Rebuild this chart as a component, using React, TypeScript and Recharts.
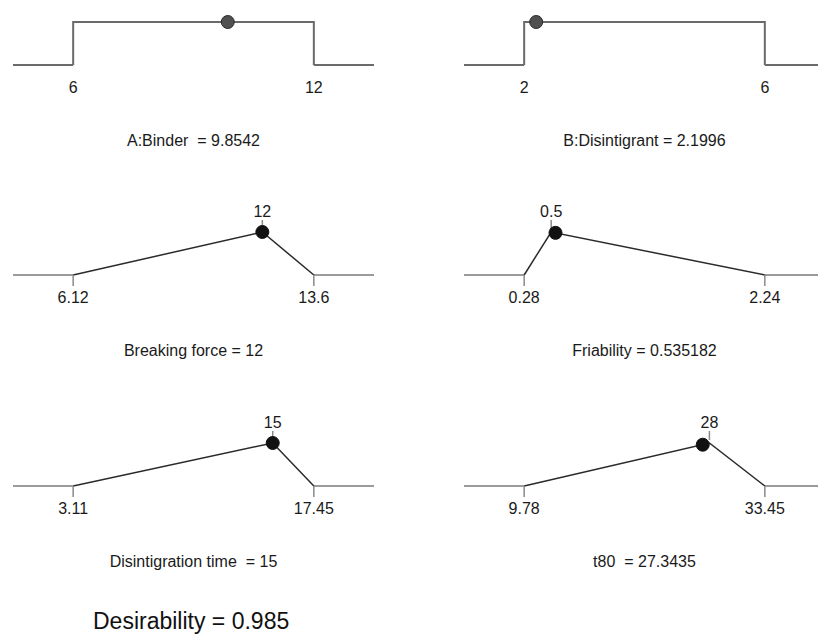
import React from "react";
import { ComposedChart, Line, Scatter, XAxis, YAxis } from "recharts";

// Factor / response settings
const panelNames = [
  "A:Binder",
  "B:Disintigrant",
  "Breaking force",
  "Friability",
  "Disintigration time",
  "t80",
];
const lowLimits = [6, 2, 6.12, 0.28, 3.11, 9.78];
const highLimits = [12, 6, 13.6, 2.24, 17.45, 33.45];
const targetValues: (number | null)[] = [null, null, 12, 0.5, 15, 28];
const currentValues = [9.8542, 2.1996, 12, 0.535182, 15, 27.3435];
const currentLabels = ["9.8542", "2.1996", "12", "0.535182", "15", "27.3435"];
const pointDesirability = [1, 1, 1, 0.98, 1, 0.96];
const overallDesirability = "0.985";

const FONT = '"Liberation Sans", Arial, sans-serif';
const ROW_PEAK = [22, 232, 443]; // y of desirability = 1 in each row
const RAMP_H = 43;
const CHART_H = 128;
const TOP_M = 40;

const renderEdgeTick = (marks: boolean) => (props: any) => {
  const { x, y, payload } = props;
  return (
    <g>
      {marks && (
        <line x1={x} x2={x} y1={y} y2={y + 11} stroke="#8a8a8a" strokeWidth={1.5} />
      )}
      <text x={x} y={y + 28} textAnchor="middle" fontSize={16} fill="#1a1a1a" fontFamily={FONT}>
        {payload.value}
      </text>
    </g>
  );
};

const TargetMark = ({ cx, cy, payload }: any) => (
  <g>
    <line x1={cx} x2={cx} y1={cy - 12} y2={cy - 3} stroke="#8a8a8a" strokeWidth={1.5} />
    <text x={cx} y={cy - 15} textAnchor="middle" fontSize={16} fill="#1a1a1a" fontFamily={FONT}>
      {payload.label}
    </text>
  </g>
);

const Panel = ({ i }: { i: number }) => {
  const lo = lowLimits[i];
  const hi = highLimits[i];
  const pad = (hi - lo) * 0.25;
  const domain = [lo - pad, hi + pad];
  const target = targetValues[i];
  const isFactor = target === null;
  const right = i % 2 === 1;
  const row = Math.floor(i / 2);

  const flatLeft = [
    { x: domain[0], y: 0 },
    { x: lo, y: 0 },
  ];
  const flatRight = [
    { x: hi, y: 0 },
    { x: domain[1], y: 0 },
  ];
  const ramp = isFactor
    ? [
        { x: lo, y: 0 },
        { x: lo, y: 1 },
        { x: hi, y: 1 },
        { x: hi, y: 0 },
      ]
    : [
        { x: lo, y: 0 },
        { x: target, y: 1 },
        { x: hi, y: 0 },
      ];
  const point = [{ x: currentValues[i], y: pointDesirability[i] }];
  const targetPoint = isFactor ? [] : [{ x: target, y: 1, label: String(target) }];

  const flatColor = isFactor ? "#6a6a6a" : "#7a7a7a";
  const rampColor = isFactor ? "#6a6a6a" : "#2a2a2a";
  const width = right ? 416 : 409;

  return (
    <div
      style={{
        position: "absolute",
        left: right ? 409 : 0,
        top: ROW_PEAK[row] - TOP_M,
        width,
        height: CHART_H,
      }}
    >
      <ComposedChart
        width={width}
        height={CHART_H}
        margin={{ top: TOP_M, right: right ? 0 : 35, bottom: 5, left: right ? 55 : 13 }}
      >
        <XAxis
          type="number"
          dataKey="x"
          domain={domain}
          ticks={[lo, hi]}
          interval={0}
          height={CHART_H - TOP_M - 5 - RAMP_H}
          axisLine={false}
          tickLine={false}
          tickSize={0}
          tickMargin={0}
          tick={renderEdgeTick(!isFactor)}
        />
        <YAxis type="number" dataKey="y" domain={[0, 1]} hide />
        <Line data={flatLeft} dataKey="y" stroke={flatColor} strokeWidth={isFactor ? 2 : 1.6} dot={false} activeDot={false} isAnimationActive={false} />
        <Line data={flatRight} dataKey="y" stroke={flatColor} strokeWidth={isFactor ? 2 : 1.6} dot={false} activeDot={false} isAnimationActive={false} />
        <Line data={ramp} dataKey="y" stroke={rampColor} strokeWidth={isFactor ? 2 : 1.5} dot={false} activeDot={false} isAnimationActive={false} />
        {!isFactor && (
          <Scatter data={targetPoint} dataKey="y" shape={<TargetMark />} isAnimationActive={false} />
        )}
        <Scatter
          data={point}
          dataKey="y"
          isAnimationActive={false}
          shape={(p: any) => (
            <circle
              cx={p.cx}
              cy={p.cy}
              r={6.5}
              fill={isFactor ? "#505050" : "#111"}
              stroke={isFactor ? "#2a2a2a" : "#111"}
              strokeWidth={1}
            />
          )}
        />
      </ComposedChart>
    </div>
  );
};

const Caption = ({ i }: { i: number }) => {
  const right = i % 2 === 1;
  const row = Math.floor(i / 2);
  const baseline = ROW_PEAK[row] + RAMP_H + 81.5;
  const gap = i === 0 || i === 4 || i === 5 ? "  " : " ";
  return (
    <div
      style={{
        position: "absolute",
        left: right ? 464 : 13,
        width: 361,
        top: baseline - 13.5,
        lineHeight: "16px",
        fontSize: 16,
        textAlign: "center",
        whiteSpace: "pre",
        color: "#1a1a1a",
        fontFamily: FONT,
      }}
    >
      {`${panelNames[i]}${gap}= ${currentLabels[i]}`}
    </div>
  );
};

export default function App() {
  return (
    <div
      style={{
        position: "absolute",
        left: 0,
        top: 0,
        width: 818,
        height: 634,
        overflow: "hidden",
        background: "#fff",
      }}
    >
      {panelNames.map((_, i) => (
        <Panel key={`p-${i}`} i={i} />
      ))}
      {panelNames.map((_, i) => (
        <Caption key={`c-${i}`} i={i} />
      ))}
      <div
        style={{
          position: "absolute",
          left: 93,
          top: 610,
          fontSize: 23,
          lineHeight: "23px",
          whiteSpace: "pre",
          color: "#111",
          fontFamily: FONT,
        }}
      >
        {`Desirability = ${overallDesirability}`}
      </div>
    </div>
  );
}
